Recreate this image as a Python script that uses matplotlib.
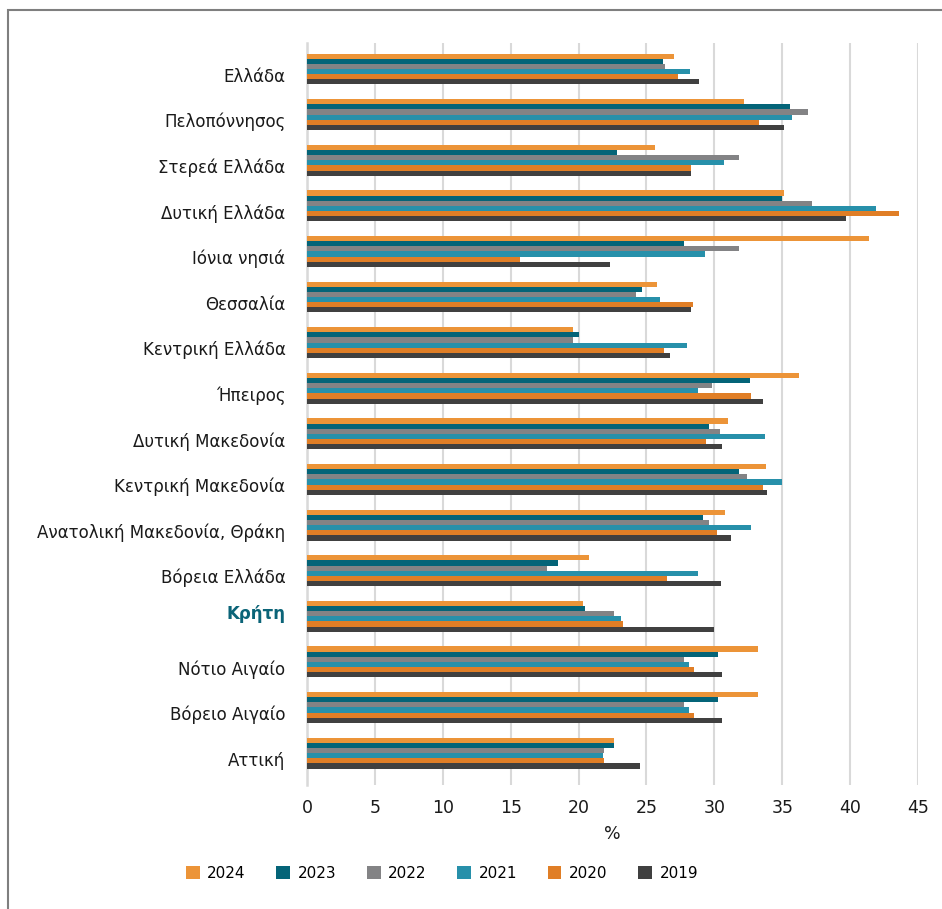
import matplotlib
matplotlib.use("Agg")
import matplotlib.pyplot as plt
import matplotlib.transforms as mtransforms
import numpy as np
from matplotlib.patches import Rectangle

regions = ["Ελλάδα", "Πελοπόννησος", "Στερεά Ελλάδα", "Δυτική Ελλάδα", "Ιόνια νησιά",
           "Θεσσαλία", "Κεντρική Ελλάδα", "Ήπειρος", "Δυτική Μακεδονία",
           "Κεντρική Μακεδονία", "Ανατολική Μακεδονία, Θράκη", "Βόρεια Ελλάδα",
           "Κρήτη", "Νότιο Αιγαίο", "Βόρειο Αιγαίο", "Αττική"]

years = ["2024", "2023", "2022", "2021", "2020", "2019"]

v2024 = [27.0, 32.2, 25.6, 35.1, 41.4, 25.8, 19.6, 36.2, 31.0, 33.8, 30.8, 20.8, 20.3, 33.2, 33.2, 22.6]
v2023 = [26.2, 35.6, 22.8, 35.0, 27.8, 24.7, 20.0, 32.6, 29.6, 31.8, 29.2, 18.5, 20.5, 30.3, 30.3, 22.6]
v2022 = [26.4, 36.9, 31.8, 37.2, 31.8, 24.2, 19.6, 29.8, 30.4, 32.4, 29.6, 17.7, 22.6, 27.8, 27.8, 21.9]
v2021 = [28.2, 35.7, 30.7, 41.9, 29.3, 26.0, 28.0, 28.8, 33.7, 35.0, 32.7, 28.8, 23.1, 28.1, 28.1, 21.8]
v2020 = [27.3, 33.3, 28.3, 43.6, 15.7, 28.4, 26.3, 32.7, 29.4, 33.6, 30.2, 26.5, 23.3, 28.5, 28.5, 21.9]
v2019 = [28.9, 35.1, 28.3, 39.7, 22.3, 28.3, 26.7, 33.6, 30.6, 33.9, 31.2, 30.5, 30.0, 30.6, 30.6, 24.5]

series = [v2024, v2023, v2022, v2021, v2020, v2019]
colors = ["#EC9438", "#046478", "#838385", "#2790AA", "#E07E26", "#404040"]

xticks = [0, 5, 10, 15, 20, 25, 30, 35, 40, 45]

W, H = 942, 909
fig = plt.figure(figsize=(W / 100, H / 100), dpi=100)
fig.patch.set_facecolor("white")

# outer border
fig.patches.append(Rectangle((8 / W, -0.05), 1.1, (H - 10) / H + 0.05, transform=fig.transFigure,
                             fill=False, edgecolor="#7F7F7F", linewidth=1.5))

ax_l, ax_r = 307 / W, 918 / W
ax_t, ax_b = 43 / H, 785 / H
ax = fig.add_axes([ax_l, 1 - ax_b, ax_r - ax_l, ax_b - ax_t])

n = len(regions)
bh = 0.113
y = np.arange(n)
for k, (vals, c, yr) in enumerate(zip(series, colors, years)):
    offs = (k - 2.5) * bh
    ax.barh(y + offs, vals, height=bh, color=c, label=yr, zorder=3, linewidth=0)

ax.set_xlim(0, 45)
ax.set_ylim(15.7, -0.57)
ax.set_xticks(xticks)
ax.set_xticklabels([str(t) for t in xticks], fontsize=12.5, color="#1a1a1a")
ax.set_yticks(y)
ax.set_yticklabels(regions, fontsize=12, color="#1a1a1a")
ax.tick_params(axis="both", length=0)
ax.tick_params(axis="y", pad=15.5)
ax.tick_params(axis="x", pad=10)
for lab in ax.get_yticklabels():
    if lab.get_text() == "Κρήτη":
        lab.set_fontweight("bold")
        lab.set_color("#0B6478")
        dy = 3 / 72.0
    else:
        dy = -4 / 72.0
    lab.set_transform(lab.get_transform() + mtransforms.ScaledTranslation(0, dy, fig.dpi_scale_trans))
ax.grid(axis="x", color="#D9D9D9", linewidth=1.5, zorder=0)
for s in ["top", "right", "bottom"]:
    ax.spines[s].set_visible(False)
ax.spines["left"].set_color("#D9D9D9")
ax.spines["left"].set_linewidth(1.8)
ax.set_xlabel("%", fontsize=12.5, color="#1a1a1a", labelpad=6)

handles, labels = ax.get_legend_handles_labels()
leg = fig.legend(handles, labels, loc="center", bbox_to_anchor=(442 / W, 1 - 873 / H), ncol=6,
                 frameon=False, fontsize=11, handlelength=0.9, handleheight=0.9,
                 handletextpad=0.5, columnspacing=2.0)

fig.savefig("out.png", dpi=100, facecolor="white")
